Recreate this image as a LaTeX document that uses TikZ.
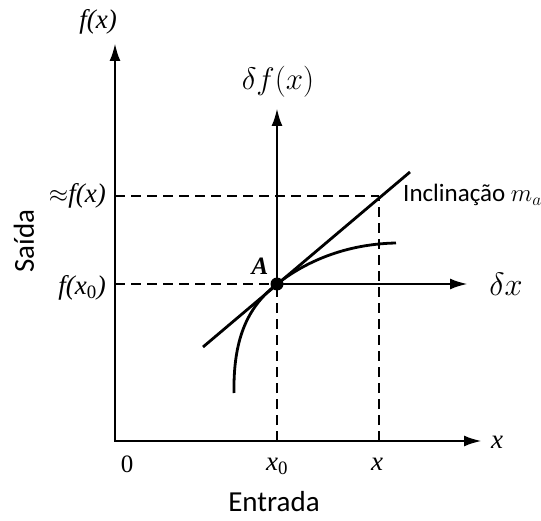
\documentclass[tikz,border=0pt]{standalone}
\usepackage{fontspec}
\setmainfont{Liberation Serif}
\newfontfamily\calfont{Carlito}
\usetikzlibrary{arrows.meta}
\tikzset{
  axisline/.style={line width=2.8pt},
  axarrow/.style={axisline,-{Latex[length=18pt,width=11pt]}},
  dashline/.style={line width=2.3pt,dash pattern=on 10pt off 6pt},
  curveline/.style={line width=2.8pt},
  lbl/.style={font=\fontsize{27}{27}\selectfont\itshape, inner sep=0pt},
  sanslbl/.style={font=\calfont\fontsize{29}{29}\selectfont, inner sep=0pt},
  mathlbl/.style={font=\fontsize{24}{24}\selectfont, inner sep=0pt}
}
\begin{document}
\begin{tikzpicture}[x=1pt,y=-1pt]
\useasboundingbox (0,0) rectangle (541,521);
% key coordinates
\coordinate (O) at (115,441);
\coordinate (Ytop) at (115,43);
\coordinate (Xend) at (482,441);
\coordinate (A) at (277,284);
\coordinate (Ax) at (277,441);
\coordinate (Ay) at (115,284);
\coordinate (dfTop) at (277,108);
\coordinate (dxEnd) at (468,284);
\coordinate (Px) at (379,441);
\coordinate (P) at (379,196);
\coordinate (Py) at (115,196);
\coordinate (T1) at (203,347);
\coordinate (T2) at (410,172);
\coordinate (C1) at (234,393);
\coordinate (C2) at (396,243);
% dashed lines
\draw[dashline] (Ay) -- (A);
\draw[dashline] (Ax) -- (A);
\draw[dashline] (Py) -- (P);
\draw[dashline] (Px) -- (P);
% main axes
\draw[axarrow] (O) -- (Xend);
\draw[axarrow] (O) -- (Ytop);
\fill (113.6,439.6) rectangle (116.4,442.4);
% local axes
\draw[axarrow] (A) -- (dfTop);
\draw[axarrow] (A) -- (dxEnd);
% tangent
\draw[curveline] (T1) -- (T2);
% curve
\draw[curveline] (C1) .. controls (233,335) and (250,305) .. (A)
  .. controls (305,262) and (345,244) .. (C2);
\fill (A) circle (6.5pt);
% labels
\node[lbl] (fx) at (98,22) {f(x)};
\node[lbl, anchor=east] (afx) at (106,196) {$\approx$f(x)};
\node[lbl, anchor=east] (fx0) at (106,288) {f(x\textsubscript{\upshape 0})};
\node[lbl, font=\fontsize{25}{25}\selectfont] (zero) at (127,464) {0};
\node[lbl] (x0) at (277,466) {x\textsubscript{\upshape 0}};
\node[lbl] (xl) at (377,464) {x};
\node[lbl] (xax) at (497,442) {x};
\node[lbl, font=\fontsize{25}{25}\selectfont\bfseries\itshape] (Al) at (260,266) {A};
\node[mathlbl] (dfl) at (278,82) {\scalebox{1.25}{$\delta f(x)$}};
\node[mathlbl] (dxl) at (506,284) {\scalebox{1.3}{$\delta x$}};
\node[sanslbl, font=\calfont\fontsize{25}{25}\selectfont, anchor=west] (incl) at (403,195) {Inclinação $m_a$};
\node[sanslbl] (entr) at (274,502) {Entrada};
\node[sanslbl, rotate=90] (said) at (24,241) {Saída};
\end{tikzpicture}
\end{document}
